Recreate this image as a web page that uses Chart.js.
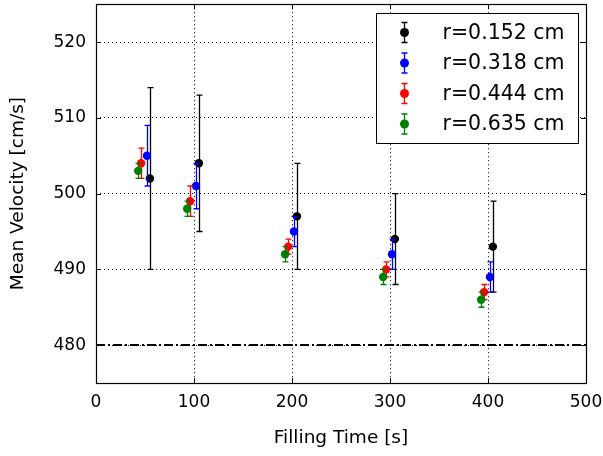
<!DOCTYPE html>
<html>
<head>
<meta charset="utf-8">
<script src="https://cdn.jsdelivr.net/npm/chart.js@4/dist/chart.umd.min.js"></script>
<style>
  html, body { margin: 0; padding: 0; background: #fff; }
  #wrap { width: 603px; height: 456px; }
</style>
</head>
<body>
<div id="wrap"><canvas id="chart" width="603" height="456"></canvas></div>
<script>
// values
const labels = ["r=0.152 cm", "r=0.318 cm", "r=0.444 cm", "r=0.635 cm"];
const colors = ["#000000", "#0000ff", "#ff0000", "#008000"];

const time152 = [55, 105, 205, 305, 405];
const vel152 = [502, 504, 497, 494, 493];
const err152 = [12, 9, 7, 6, 6];

const time318 = [52, 102, 202, 302, 402];
const vel318 = [505, 501, 495, 492, 489];
const err318 = [4, 3, 2, 2, 2];

const time444 = [46, 96, 196, 296, 396];
const vel444 = [504, 499, 493, 490, 487];
const err444 = [2, 2, 1, 1, 1];

const time635 = [43, 93, 193, 293, 393];
const vel635 = [503, 498, 492, 489, 486];
const err635 = [1, 1, 1, 1, 1];

const refX = [0, 500];
const refVelocity = 480;

const yTicks = [480, 490, 500, 510, 520];
const FONT = "'DejaVu Sans', sans-serif";

const toPoints = (xs, ys) => xs.map((x, i) => ({ x, y: ys[i] }));

const series = [
  [time152, vel152, err152],
  [time318, vel318, err318],
  [time444, vel444, err444],
  [time635, vel635, err635],
];

const datasets = series.map(([t, v, e], i) => ({
  type: "scatter",
  label: labels[i],
  data: toPoints(t, v),
  errors: e,
  backgroundColor: colors[i],
  borderColor: colors[i],
  pointRadius: 4.2,
  pointBorderWidth: 0,
  order: 4 - i,
}));

datasets.push({
  type: "line",
  label: "",
  data: refX.map((x) => ({ x, y: refVelocity })),
  borderColor: "#000",
  borderWidth: 2,
  borderDash: [9, 3, 2, 3],
  pointRadius: 0,
  order: 10,
});

// error bars, drawn under each dataset's markers
const errorBars = {
  id: "errorBars",
  beforeDatasetDraw(chart, args) {
    const ds = chart.data.datasets[args.index];
    if (!ds.errors) return;
    const y = chart.scales.y;
    const ctx = chart.ctx;
    ctx.save();
    ctx.strokeStyle = ds.borderColor;
    ctx.lineWidth = 1.3;
    args.meta.data.forEach((pt, i) => {
      const val = ds.data[i].y;
      const top = y.getPixelForValue(val + ds.errors[i]);
      const bot = y.getPixelForValue(val - ds.errors[i]);
      const px = Math.round(pt.x) + 0.5;
      ctx.beginPath();
      ctx.moveTo(px, top);
      ctx.lineTo(px, bot);
      ctx.moveTo(px - 3, top);
      ctx.lineTo(px + 3, top);
      ctx.moveTo(px - 3, bot);
      ctx.lineTo(px + 3, bot);
      ctx.stroke();
    });
    ctx.restore();
  },
};

// frame, inward tick marks and the boxed legend
const frameAndLegend = {
  id: "frameAndLegend",
  afterDraw(chart) {
    const { ctx, chartArea: a, scales } = chart;
    ctx.save();
    ctx.strokeStyle = "#000";
    ctx.lineWidth = 1;
    ctx.beginPath();
    scales.x.ticks.forEach((t) => {
      const px = Math.round(scales.x.getPixelForValue(t.value)) + 0.5;
      ctx.moveTo(px, a.bottom);
      ctx.lineTo(px, a.bottom - 5);
      ctx.moveTo(px, a.top);
      ctx.lineTo(px, a.top + 5);
    });
    scales.y.ticks.forEach((t) => {
      const py = Math.round(scales.y.getPixelForValue(t.value)) + 0.5;
      ctx.moveTo(a.left, py);
      ctx.lineTo(a.left + 5, py);
      ctx.moveTo(a.right, py);
      ctx.lineTo(a.right - 5, py);
    });
    ctx.stroke();
    ctx.lineWidth = 1.2;
    ctx.strokeRect(Math.round(a.left) + 0.5, Math.round(a.top) + 0.5,
      Math.round(a.right - a.left), Math.round(a.bottom - a.top));

    // legend box
    const w = 202, h = 130;
    const bx = Math.round(a.right) - 8 - w + 0.5;
    const by = Math.round(a.top) + 9 + 0.5;
    ctx.fillStyle = "#fff";
    ctx.fillRect(bx, by, w, h);
    ctx.lineWidth = 1;
    ctx.strokeRect(bx, by, w, h);

    ctx.font = "20.5px " + FONT;
    ctx.textBaseline = "middle";
    chart.data.datasets.filter((d) => d.errors).forEach((d, i) => {
      const cy = by + 19 + i * 30.5;
      const mx = bx + 28;
      ctx.strokeStyle = d.borderColor;
      ctx.lineWidth = 1.3;
      ctx.beginPath();
      ctx.moveTo(mx, cy - 10);
      ctx.lineTo(mx, cy + 10);
      ctx.moveTo(mx - 3, cy - 10);
      ctx.lineTo(mx + 3, cy - 10);
      ctx.moveTo(mx - 3, cy + 10);
      ctx.lineTo(mx + 3, cy + 10);
      ctx.stroke();
      ctx.fillStyle = d.backgroundColor;
      ctx.beginPath();
      ctx.arc(mx, cy, 4.5, 0, Math.PI * 2);
      ctx.fill();
      ctx.fillStyle = "#000";
      ctx.fillText(d.label, bx + 66, cy + 1);
    });
    ctx.restore();
  },
};

const ctx = document.getElementById("chart");

new Chart(ctx, {
  type: "scatter",
  data: { datasets },
  plugins: [errorBars, frameAndLegend],
  options: {
    responsive: false,
    animation: false,
    layout: { padding: { left: 0, right: 17, top: 4, bottom: 0 } },
    plugins: {
      legend: { display: false },
      tooltip: { enabled: false },
    },
    scales: {
      x: {
        type: "linear",
        min: 0,
        max: 500,
        ticks: {
          stepSize: 100,
          color: "#000",
          padding: 9,
          font: { family: FONT, size: 17 },
        },
        grid: { color: "#000", lineWidth: 1, drawTicks: false },
        border: { display: false, dash: [1, 3] },
        title: {
          display: true,
          text: "Filling Time [s]",
          color: "#000",
          padding: { top: 4, bottom: 7 },
          font: { family: FONT, size: 18.5 },
        },
        afterFit: (scale) => {
          scale.height = 73;
          scale.paddingLeft = 0;
          scale.paddingRight = 0;
        },
      },
      y: {
        type: "linear",
        min: 475,
        max: 525,
        afterBuildTicks: (scale) => {
          scale.ticks = yTicks.map((value) => ({ value }));
        },
        ticks: {
          color: "#000",
          padding: 10,
          font: { family: FONT, size: 17 },
        },
        grid: { color: "#000", lineWidth: 1, drawTicks: false },
        border: { display: false, dash: [1, 3] },
        title: {
          display: true,
          text: "Mean Velocity [cm/s]",
          color: "#000",
          padding: { top: 7, bottom: 0 },
          font: { family: FONT, size: 18.5 },
        },
        afterFit: (scale) => {
          scale.width = 96;
          scale.paddingTop = 0;
          scale.paddingBottom = 0;
        },
      },
    },
  },
});
</script>
</body>
</html>
